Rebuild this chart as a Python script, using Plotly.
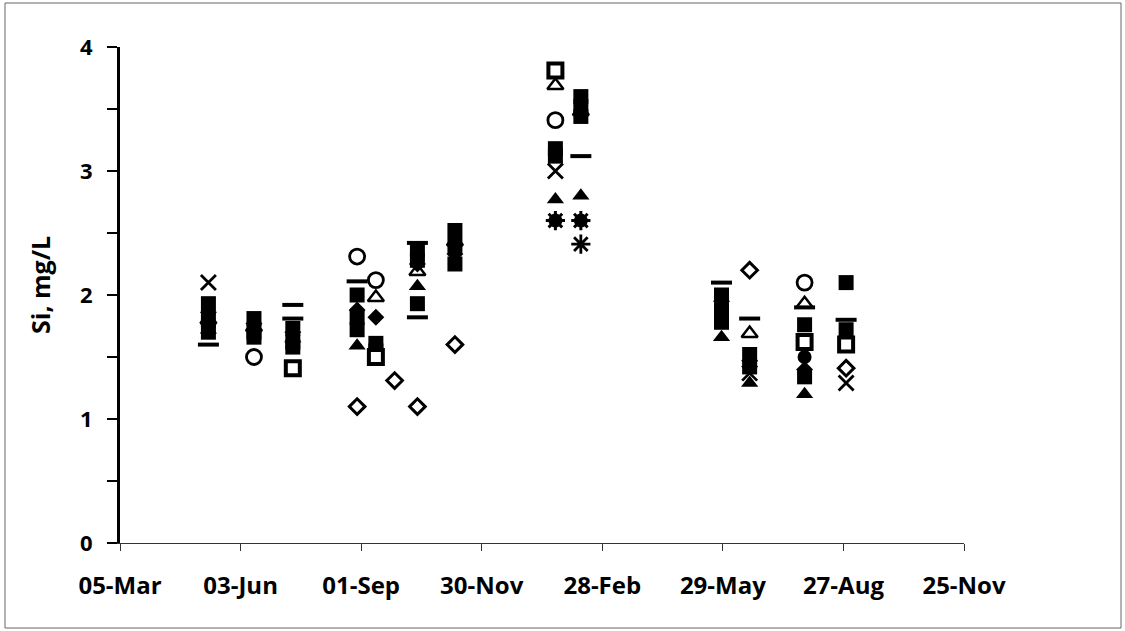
import plotly.graph_objects as go

# ---- data ----
dates = ["2010-05-10", "2010-06-13", "2010-07-12", "2010-08-29", "2010-09-12",
         "2010-09-26", "2010-10-13", "2010-11-10", "2011-01-24", "2011-02-12",
         "2011-05-28", "2011-06-18", "2011-07-29", "2011-08-29"]

sq_a = [1.93, 1.81, 1.73, 2.00, 1.61, None, 2.37, 2.52, 3.18, 3.60, 2.00, 1.52, 1.76, 2.10]
sq_b = [1.80, 1.70, 1.62, 1.82, 1.55, None, 2.28, 2.40, 3.12, 3.44, 1.88, 1.42, 1.62, 1.72]
sq_c = [1.70, 1.66, 1.58, 1.72, None, None, 1.93, 2.25, None, 3.52, 1.78, None, 1.34, None]
dia_fill = [1.86, 1.77, 1.70, 1.88, 1.82, None, 2.25, 2.33, None, None, 1.95, 1.47, 1.40, None]
circ_fill = [1.74, 1.69, 1.68, None, 1.58, None, 2.30, None, 2.60, 2.60, 1.84, None, 1.50, None]
tri_fill = [1.72, None, 1.65, 1.59, None, None, 2.07, None, 2.77, 2.80, 1.66, 1.29, 1.20, None]
tri_open = [1.80, 1.74, None, None, 1.98, None, 2.19, 2.43, 3.69, 3.48, None, 1.69, 1.93, None]
dia_open = [None, None, None, 1.10, None, 1.31, 1.10, 1.60, None, None, None, 2.20, None, 1.41]
circ_open = [None, 1.50, None, 2.31, 2.12, None, None, None, 3.41, None, None, None, 2.10, None]
sq_open = [None, None, 1.41, None, 1.50, None, None, None, 3.81, None, None, None, 1.62, 1.60]
cross_x = [2.10, None, None, None, None, None, None, None, 3.00, None, None, 1.37, None, 1.29]
star_a = [None, None, None, None, None, None, None, None, 2.60, 2.60, None, None, None, None]
star_b = [None, None, None, None, None, None, None, None, None, 2.41, None, None, None, None]
dash_a = [1.60, None, 1.92, 2.11, None, None, 2.42, None, None, 3.12, 2.10, 1.81, 1.90, 1.80]
dash_b = [None, None, 1.81, None, None, None, 1.82, None, None, None, None, None, None, None]

x_ticks = ["2010-03-05", "2010-06-03", "2010-09-01", "2010-11-30", "2011-02-28",
           "2011-05-29", "2011-08-27", "2011-11-25"]
y_ticks = [0, 0.5, 1, 1.5, 2, 2.5, 3, 3.5, 4]
y_tick_text = ["0", "", "1", "", "2", "", "3", "", "4"]

FONT = "Open Sans"

series = [
    (tri_open, dict(symbol="triangle-up", size=14, color="white", line=dict(color="black", width=2.5))),
    (sq_a, dict(symbol="square", size=15, color="black")),
    (sq_b, dict(symbol="square", size=15, color="black")),
    (sq_c, dict(symbol="square", size=15, color="black")),
    (dia_fill, dict(symbol="diamond", size=13, color="black")),
    (circ_fill, dict(symbol="circle", size=14, color="black")),
    (tri_fill, dict(symbol="triangle-up", size=15, color="black")),
    (dia_open, dict(symbol="diamond", size=12, color="white", line=dict(color="black", width=3))),
    (circ_open, dict(symbol="circle", size=15, color="white", line=dict(color="black", width=2.8))),
    (sq_open, dict(symbol="square", size=14, color="white", line=dict(color="black", width=4))),
    (cross_x, dict(symbol="x-thin-open", size=15, color="black", line=dict(color="black", width=2.8))),
    (star_a, dict(symbol="asterisk-open", size=16, color="black", line=dict(color="black", width=3))),
    (star_b, dict(symbol="asterisk-open", size=16, color="black", line=dict(color="black", width=2.8))),
    (dash_a, dict(symbol="line-ew-open", size=15, color="black", line=dict(color="black", width=4))),
    (dash_b, dict(symbol="line-ew-open", size=15, color="black", line=dict(color="black", width=4))),
]

fig = go.Figure()
for vals, mk in series:
    fig.add_trace(go.Scatter(x=dates, y=vals, mode="markers", marker=mk,
                             showlegend=False, cliponaxis=False, hoverinfo="skip"))

W, H = 1125, 631
L, R, T, B = 120, 161, 47, 88
pw, ph = W - L - R, H - T - B

def px_x(px):
    return (px - L) / pw

def px_y(py):
    return (H - B - py) / ph

fig.update_layout(
    width=W, height=H,
    margin=dict(l=L, r=R, t=T, b=B),
    paper_bgcolor="white", plot_bgcolor="white",
    font=dict(family=FONT, color="black"),
    xaxis=dict(
        type="date", range=[x_ticks[0], x_ticks[-1]],
        tickmode="array", tickvals=x_ticks, tickformat="%d-%b",
        showgrid=False, zeroline=False,
        showline=True, linecolor="#333333", linewidth=1,
        ticks="outside", ticklen=7, tickwidth=1, tickcolor="#333333",
        tickfont=dict(family=FONT, size=24, color="black", weight="bold"),
        ticklabelstandoff=14,
    ),
    yaxis=dict(
        range=[0, 4], tickmode="array", tickvals=y_ticks, ticktext=y_tick_text,
        showgrid=False, zeroline=False,
        showline=True, linecolor="black", linewidth=3,
        ticks="outside", ticklen=10, tickwidth=2, tickcolor="black",
        tickfont=dict(family=FONT, size=22, color="black", weight="bold"),
        ticklabelstandoff=10,
    ),
    annotations=[dict(
        text="Si, mg/L", xref="paper", yref="paper",
        x=px_x(40), y=px_y(285), xanchor="center", yanchor="middle",
        textangle=-90, showarrow=False,
        font=dict(family=FONT, size=25, color="black", weight="bold"),
    )],
    shapes=[dict(
        type="rect", xref="paper", yref="paper",
        x0=px_x(5), x1=px_x(1121), y0=px_y(628), y1=px_y(3),
        line=dict(color="#666666", width=1), fillcolor="rgba(0,0,0,0)",
    )],
)

fig.write_html("out.html", config={"displayModeBar": False},
               post_script="document.body.style.margin='0px';")
